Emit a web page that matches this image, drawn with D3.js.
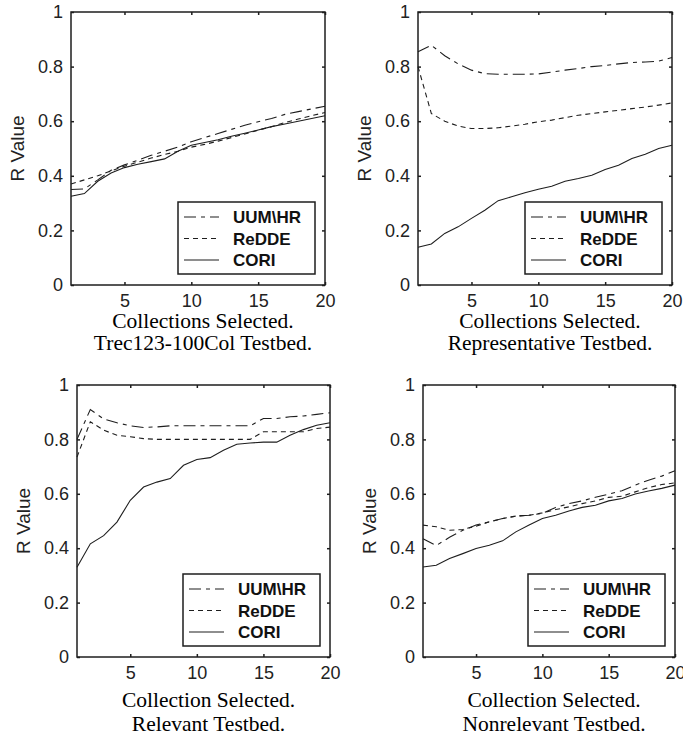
<!DOCTYPE html>
<html>
<head>
<meta charset="utf-8">
<script src="https://cdn.jsdelivr.net/npm/d3@7"></script>
<style>
    body { margin: 0; background: #fff; }
    svg { display: block; }
    .tick text { font-family: "Liberation Sans", Arial, sans-serif; font-size: 18px; fill: #222; }
</style>
</head>
<body>
<svg id="chart" width="683" height="740"></svg>
<script>
// data
const collections = [1, 2, 3, 4, 5, 6, 7, 8, 9, 10, 11, 12, 13, 14, 15, 16, 17, 18, 19, 20];
const xTicks = [5, 10, 15, 20];
const yTicks = [0, 0.2, 0.4, 0.6, 0.8, 1];
const seriesNames = ["UUM\\HR", "ReDDE", "CORI"];

const trecUUM = [0.35, 0.352, 0.385, 0.42, 0.44, 0.457, 0.475, 0.49, 0.505, 0.525, 0.54, 0.555, 0.57, 0.585, 0.598, 0.61, 0.625, 0.635, 0.645, 0.655];
const trecReDDE = [0.37, 0.385, 0.40, 0.418, 0.435, 0.45, 0.465, 0.478, 0.49, 0.505, 0.515, 0.527, 0.54, 0.553, 0.567, 0.58, 0.595, 0.608, 0.62, 0.632];
const trecCORI = [0.325, 0.335, 0.38, 0.41, 0.43, 0.442, 0.452, 0.462, 0.49, 0.512, 0.522, 0.532, 0.545, 0.556, 0.568, 0.58, 0.59, 0.60, 0.61, 0.62];

const repUUM = [0.854, 0.878, 0.84, 0.81, 0.787, 0.774, 0.772, 0.772, 0.772, 0.773, 0.78, 0.787, 0.793, 0.80, 0.804, 0.81, 0.815, 0.817, 0.82, 0.833];
const repReDDE = [0.80, 0.628, 0.60, 0.582, 0.573, 0.573, 0.576, 0.582, 0.589, 0.598, 0.604, 0.613, 0.622, 0.628, 0.634, 0.64, 0.646, 0.652, 0.659, 0.667];
const repCORI = [0.138, 0.15, 0.189, 0.213, 0.244, 0.274, 0.309, 0.323, 0.338, 0.351, 0.362, 0.38, 0.39, 0.402, 0.423, 0.439, 0.463, 0.479, 0.50, 0.512];

const relUUM = [0.80, 0.91, 0.875, 0.861, 0.85, 0.844, 0.846, 0.85, 0.85, 0.85, 0.85, 0.85, 0.85, 0.85, 0.877, 0.877, 0.883, 0.886, 0.892, 0.898];
const relReDDE = [0.735, 0.865, 0.834, 0.815, 0.81, 0.803, 0.80, 0.80, 0.80, 0.80, 0.80, 0.80, 0.80, 0.80, 0.828, 0.828, 0.828, 0.828, 0.84, 0.845];
const relCORI = [0.33, 0.416, 0.446, 0.496, 0.576, 0.625, 0.643, 0.656, 0.705, 0.726, 0.733, 0.76, 0.782, 0.787, 0.79, 0.79, 0.815, 0.836, 0.852, 0.861];

const nonUUM = [0.435, 0.41, 0.44, 0.466, 0.485, 0.497, 0.509, 0.518, 0.521, 0.528, 0.55, 0.564, 0.574, 0.587, 0.599, 0.611, 0.632, 0.65, 0.665, 0.685];
const nonReDDE = [0.485, 0.479, 0.466, 0.469, 0.481, 0.497, 0.509, 0.518, 0.521, 0.53, 0.542, 0.552, 0.564, 0.574, 0.587, 0.591, 0.607, 0.623, 0.634, 0.64];
const nonCORI = [0.331, 0.337, 0.362, 0.38, 0.399, 0.411, 0.427, 0.46, 0.485, 0.509, 0.521, 0.537, 0.55, 0.558, 0.574, 0.583, 0.599, 0.61, 0.62, 0.632];

const captionLine1 = ["Collections Selected.", "Collections Selected.", "Collection Selected.", "Collection Selected."];
const captionLine2 = ["Trec123-100Col Testbed.", "Representative Testbed.", "Relevant Testbed.", "Nonrelevant Testbed."];

const panelSeries = [
    [trecUUM, trecReDDE, trecCORI],
    [repUUM, repReDDE, repCORI],
    [relUUM, relReDDE, relCORI],
    [nonUUM, nonReDDE, nonCORI],
];

// layout: plot boxes and caption baselines (below the x axis)
const boxes = [
    { left: 71, top: 12, right: 325, bottom: 285, cap1: 43, cap2: 65 },
    { left: 418, top: 12, right: 672, bottom: 285, cap1: 43, cap2: 65 },
    { left: 77, top: 385, right: 330, bottom: 657, cap1: 50, cap2: 74 },
    { left: 423, top: 385, right: 675, bottom: 657, cap1: 50, cap2: 74 },
];
const dashes = ["12,5,4,5", "5,4", null];
const ink = "#1e1e1e";

const svg = d3.select("#chart");

boxes.forEach((box, i) => drawPanel(i, box));

function drawPanel(i, box) {
    const w = box.right - box.left
    const h = box.bottom - box.top
    const g = svg.append("g").attr("transform", `translate(${box.left},${box.top})`)

    const x = d3.scaleLinear().domain([1, 20]).range([0, w])
    const y = d3.scaleLinear().domain([0, 1]).range([h, 0])

    const fmt = d3.format("~g")

    // inward ticks on all four sides
    g.append("g").attr("transform", `translate(0,${h})`)
        .call(d3.axisBottom(x).tickValues(xTicks).tickSizeInner(-3).tickSizeOuter(0).tickPadding(9))
    g.append("g")
        .call(d3.axisTop(x).tickValues(xTicks).tickSizeInner(-3).tickSizeOuter(0).tickFormat(""))
    g.append("g")
        .call(d3.axisLeft(y).tickValues(yTicks).tickSizeInner(-3).tickSizeOuter(0).tickPadding(8).tickFormat(fmt))
    g.append("g").attr("transform", `translate(${w},0)`)
        .call(d3.axisRight(y).tickValues(yTicks).tickSizeInner(-3).tickSizeOuter(0).tickFormat(""))

    g.selectAll(".domain").remove()
    g.selectAll(".tick line").attr("stroke", ink).attr("stroke-width", 1.5)

    g.append("rect")
        .attr("width", w).attr("height", h)
        .attr("fill", "none").attr("stroke", ink).attr("stroke-width", 1.5)

    // series
    const line = d3.line().x((d, k) => x(collections[k])).y(d => y(d))
    panelSeries[i].forEach((vals, s) => {
        g.append("path")
            .attr("d", line(vals))
            .attr("fill", "none")
            .attr("stroke", ink)
            .attr("stroke-width", 1.1)
            .attr("stroke-dasharray", dashes[s])
    })

    // legend
    const lw = 137, lh = 72
    const lg = g.append("g").attr("transform", `translate(${w - 10 - lw},${h - 11 - lh})`)
    lg.append("rect").attr("width", lw).attr("height", lh)
        .attr("fill", "#fff").attr("stroke", ink).attr("stroke-width", 1.5)
    seriesNames.forEach((name, s) => {
        const ry = 15 + s * 21.5
        lg.append("line")
            .attr("x1", 6).attr("x2", 41).attr("y1", ry).attr("y2", ry)
            .attr("stroke", ink).attr("stroke-width", 1.1)
            .attr("stroke-dasharray", dashes[s])
        lg.append("text")
            .attr("x", 55).attr("y", ry).attr("dy", "0.36em")
            .attr("font-family", "Liberation Sans, Arial, sans-serif")
            .attr("font-weight", "bold").attr("font-size", 17)
            .attr("fill", "#111")
            .text(name)
    })

    // y label
    g.append("text")
        .attr("transform", `translate(-47,${h / 2}) rotate(-90)`)
        .attr("text-anchor", "middle")
        .attr("font-family", "Liberation Sans, Arial, sans-serif")
        .attr("font-size", 19).attr("fill", "#222")
        .text("R Value")

    // caption under each panel
    const cx = w / 2 + 5
    g.append("text").attr("x", cx).attr("y", h + box.cap1)
        .attr("text-anchor", "middle")
        .attr("font-family", "Liberation Serif, Times New Roman, serif")
        .attr("font-size", 21.5).attr("fill", "#000")
        .text(captionLine1[i])
    g.append("text").attr("x", cx).attr("y", h + box.cap2)
        .attr("text-anchor", "middle")
        .attr("font-family", "Liberation Serif, Times New Roman, serif")
        .attr("font-size", 21.5).attr("fill", "#000")
        .text(captionLine2[i])
}
</script>
</body>
</html>
